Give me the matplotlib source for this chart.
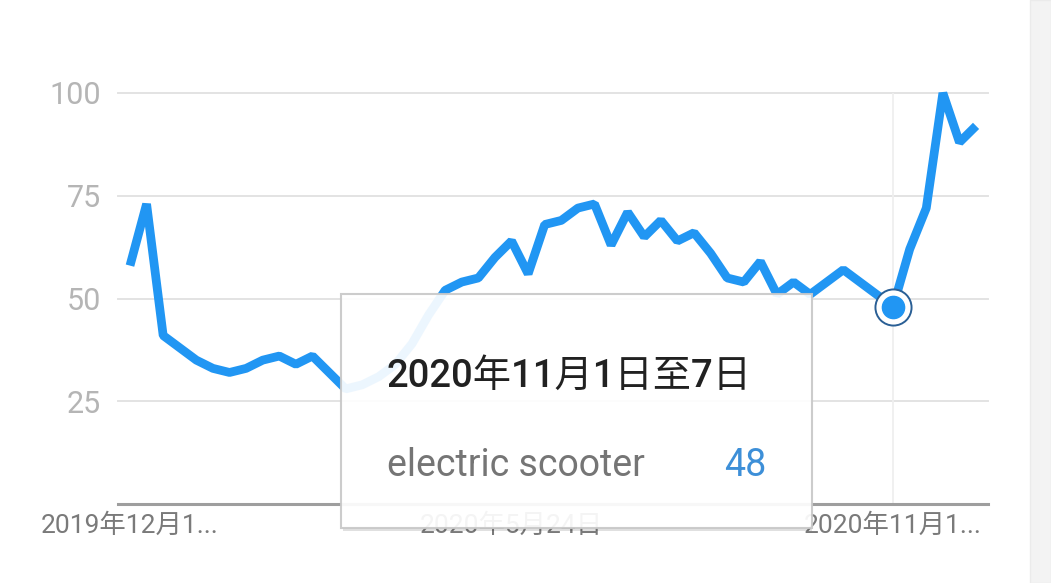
import matplotlib
matplotlib.use("Agg")
import matplotlib.pyplot as plt
import matplotlib.dates as mdates
from matplotlib.patches import Rectangle
import pandas as pd

# ==================== ------ DATA ------- ====================
weeks = pd.date_range("2019-12-15", periods=52, freq="W-SUN")
interest = [58, 73, 41, 38, 35, 33, 32, 33, 35, 36, 34, 36, 32, 28, 29, 31,
            34, 39, 46, 52, 54, 55, 60, 64, 56, 68, 69, 72, 73, 63, 71, 65,
            69, 64, 66, 61, 55, 54, 59, 51, 54, 51, 54, 57, 54, 51, 48, 62,
            72, 100, 88, 92]
y_ticks = [25, 50, 75, 100]
x_tick_dates = ["2019-12-15", "2020-05-24", "2020-11-01"]
x_tick_labels = ["2019年12月1...", "2020年5月24日", "2020年11月1..."]
hover_date = "2020-11-01"
tooltip_title = "2020年11月1日至7日"
tooltip_term = "electric scooter"

LINE_BLUE = "#2196f3"

plt.rcParams["font.family"] = ["Roboto", "Noto Sans CJK SC", "DejaVu Sans"]

W, H = 1051, 583
fig = plt.figure(figsize=(W / 100, H / 100), dpi=100)


def fx(px):
    return px / W


def fy(py):
    return 1 - py / H


ax = fig.add_axes([fx(118), fy(504), fx(988) - fx(118), fy(93) - fy(504)])

# grid + baseline
for v in y_ticks:
    ax.axhline(v, color="#e3e3e3", lw=1.4, zorder=1, clip_on=False)
ax.axhline(0, color="#9e9e9e", lw=2.2, zorder=2, clip_on=False)

hover = pd.Timestamp(hover_date)
ax.axvline(hover, color="#efefef", lw=1.3, zorder=1)

ax.plot(weeks, interest, color=LINE_BLUE, lw=6.3, solid_joinstyle="bevel",
        solid_capstyle="butt", zorder=3, clip_on=False)

hv = interest[list(weeks).index(hover)]
ax.plot([hover], [hv], marker="o", ms=26, mfc="white", mec="#2a5f95", mew=1.4,
        zorder=4, clip_on=False)
ax.plot([hover], [hv], marker="o", ms=16, mfc=LINE_BLUE, mec=LINE_BLUE,
        zorder=5, clip_on=False)

ax.set_ylim(0, 100)
ax.set_xlim(weeks[0] - pd.Timedelta(days=5.06), weeks[-1] + pd.Timedelta(days=5.04))
ax.set_yticks(y_ticks)
ax.set_yticklabels([str(v) for v in y_ticks])
ax.set_xticks([mdates.date2num(pd.Timestamp(d)) for d in x_tick_dates])
ax.set_xticklabels(x_tick_labels)
ax.tick_params(axis="y", length=0, pad=12, labelsize=22, labelcolor="#b5b5b5")
ax.tick_params(axis="x", length=0, pad=7, labelsize=19, labelcolor="#7a7a7a")
for s in ax.spines.values():
    s.set_visible(False)
ax.set_facecolor("none")

# right side panel strip
fig.patches.append(Rectangle((fx(1030), 0), fx(W) - fx(1030), 1,
                             transform=fig.transFigure, facecolor="#f3f3f3",
                             edgecolor="#ebebeb", lw=1, zorder=0))

# tooltip (thin shadow under the bottom edge, then the box)
bx0, bx1, by0, by1 = 341, 812, 294, 528
fig.patches.append(Rectangle((fx(bx0 + 2), fy(by1 + 3)), fx(bx1) - fx(bx0 + 2), fy(by1) - fy(by1 + 3),
                             transform=fig.transFigure, facecolor="#000000", alpha=0.12,
                             edgecolor="none", zorder=9))
fig.patches.append(Rectangle((fx(bx0), fy(by1)), fx(bx1) - fx(bx0), fy(by0) - fy(by1),
                             transform=fig.transFigure, facecolor="white", alpha=0.92,
                             edgecolor="#c8c8c8", lw=1.5, zorder=10))
fig.text(fx(387), fy(387), tooltip_title, fontsize=27.5, color="#212121",
         weight="medium", ha="left", va="baseline", zorder=11)
fig.text(fx(387), fy(476), tooltip_term, fontsize=27, color="#757575",
         ha="left", va="baseline", zorder=11)
fig.text(fx(766), fy(476), str(hv), fontsize=27, color="#3d8fd8",
         ha="right", va="baseline", zorder=11)

fig.savefig("out.png", dpi=100, facecolor="white")
plt.close(fig)
